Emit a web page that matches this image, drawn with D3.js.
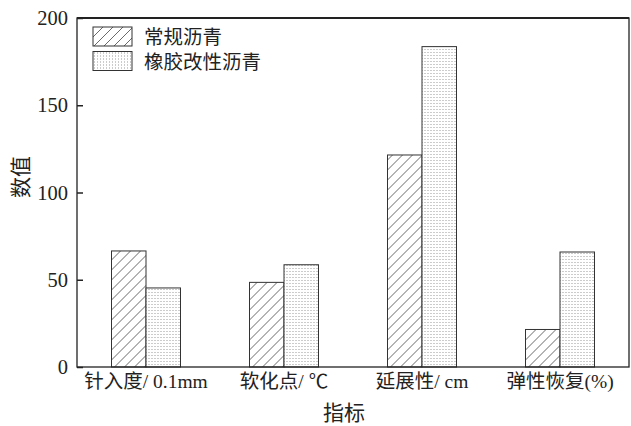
<!DOCTYPE html>
<html>
<head>
<meta charset="utf-8">
<script src="https://cdn.jsdelivr.net/npm/d3@7"></script>
<style>
    body { margin: 0; background: #fff; }
    svg { display: block; }
</style>
</head>
<body>
<svg id="chart"></svg>
<script>
// Data
let categories = ['针入度/ 0.1mm', '软化点/ ℃', '延展性/ cm', '弹性恢复(%)'];
let seriesNames = ['常规沥青', '橡胶改性沥青'];
let normalValues = [66.5, 48.5, 121.5, 21.5];
let rubberValues = [45.3, 58.6, 183.6, 65.9];
let yTicks = [0, 50, 100, 150, 200];

let c = {
    svg: { width: 631, height: 426 },
    plot: { left: 77, right: 629, top: 18, bottom: 367 },
    font: '"Liberation Serif", "Noto Sans CJK SC", serif'
};

let svg = d3.select('#chart')
    .attr('width', c.svg.width)
    .attr('height', c.svg.height);

// Fill patterns: diagonal hatch and fine dots
let defs = svg.append('defs');
let hatch = defs.append('pattern')
    .attr('id', 'hatch')
    .attr('patternUnits', 'userSpaceOnUse')
    .attr('width', 10)
    .attr('height', 10);
hatch.append('path')
    .attr('d', 'M-1,11 L11,-1 M-6,6 L6,-6 M4,16 L16,4')
    .attr('stroke', '#444')
    .attr('stroke-width', 0.8);

let dots = defs.append('pattern')
    .attr('id', 'dots')
    .attr('patternUnits', 'userSpaceOnUse')
    .attr('width', 3)
    .attr('height', 3);
dots.append('rect')
    .attr('width', 3).attr('height', 3)
    .attr('fill', '#fff');
dots.append('rect')
    .attr('x', 1).attr('y', 1)
    .attr('width', 1).attr('height', 1)
    .attr('fill', '#999');

let x = d3.scaleBand()
    .domain(categories)
    .range([c.plot.left, c.plot.right])
    .paddingInner(0.5)
    .paddingOuter(0.25);

let xSub = d3.scaleBand()
    .domain(seriesNames)
    .range([0, x.bandwidth()]);

let y = d3.scaleLinear()
    .domain([0, 200])
    .range([c.plot.bottom, c.plot.top]);

let fills = { '常规沥青': 'url(#hatch)', '橡胶改性沥青': 'url(#dots)' };

let rows = categories.map((cat, i) => ({
    cat: cat,
    vals: [
        { name: seriesNames[0], v: normalValues[i] },
        { name: seriesNames[1], v: rubberValues[i] }
    ]
}));

// Bars
let groups = svg.append('g').attr('id', 'plot')
    .selectAll('g')
    .data(rows)
    .join('g')
    .attr('transform', d => translate(x(d.cat), 0));

groups.selectAll('rect')
    .data(d => d.vals)
    .join('rect')
    .attr('x', d => xSub(d.name))
    .attr('y', d => y(d.v))
    .attr('width', xSub.bandwidth())
    .attr('height', d => y(0) - y(d.v))
    .attr('fill', d => fills[d.name])
    .attr('stroke', '#333')
    .attr('stroke-width', 1);

// Frame
let frame = svg.append('g').attr('id', 'frame');
frame.append('rect')
    .attr('x', c.plot.left)
    .attr('y', c.plot.top)
    .attr('width', c.plot.right - c.plot.left)
    .attr('height', c.plot.bottom - c.plot.top)
    .attr('fill', 'none')
    .attr('stroke', '#222')
    .attr('stroke-width', 1.3);
frame.append('line')
    .attr('x1', c.plot.left).attr('x2', c.plot.right)
    .attr('y1', c.plot.top).attr('y2', c.plot.top)
    .attr('stroke', '#222').attr('stroke-width', 2);

// Y axis with inward ticks
let yAxis = svg.append('g')
    .attr('transform', translate(c.plot.left, 0))
    .call(d3.axisLeft(y).tickValues(yTicks).tickSizeInner(-6).tickSizeOuter(0).tickPadding(9));
yAxis.select('.domain').remove();
yAxis.selectAll('line').attr('stroke', '#222').attr('stroke-width', 1.5);
yAxis.selectAll('text')
    .style('font-family', c.font)
    .style('font-size', '20.5px')
    .attr('fill', '#222');

// X axis labels
let xAxis = svg.append('g')
    .attr('transform', translate(0, c.plot.bottom))
    .call(d3.axisBottom(x).tickSize(0).tickPadding(7));
xAxis.select('.domain').remove();
xAxis.selectAll('text')
    .style('font-family', c.font)
    .style('font-size', '19.5px')
    .attr('fill', '#222');

// Axis titles
svg.append('text')
    .attr('x', 344)
    .attr('y', 420)
    .attr('text-anchor', 'middle')
    .style('font-family', c.font)
    .style('font-size', '21px')
    .attr('fill', '#222')
    .text('指标');

svg.append('text')
    .attr('transform', translate(28, 177) + ' rotate(-90)')
    .attr('text-anchor', 'middle')
    .style('font-family', c.font)
    .style('font-size', '21px')
    .attr('fill', '#222')
    .text('数值');

// Legend
let legend = svg.append('g')
    .attr('transform', translate(93, 27))
    .selectAll('g')
    .data(seriesNames)
    .join('g')
    .attr('transform', (d, i) => translate(0, i * 24.5));
legend.append('rect')
    .attr('width', 39)
    .attr('height', 19)
    .attr('fill', d => fills[d])
    .attr('stroke', '#333')
    .attr('stroke-width', 1);
legend.append('text')
    .attr('x', 51)
    .attr('y', 17)
    .style('font-family', c.font)
    .style('font-size', '19.5px')
    .attr('fill', '#222')
    .text(d => d);

function translate(x, y) {
    return 'translate(' + x + ',' + y + ')';
}
</script>
</body>
</html>
